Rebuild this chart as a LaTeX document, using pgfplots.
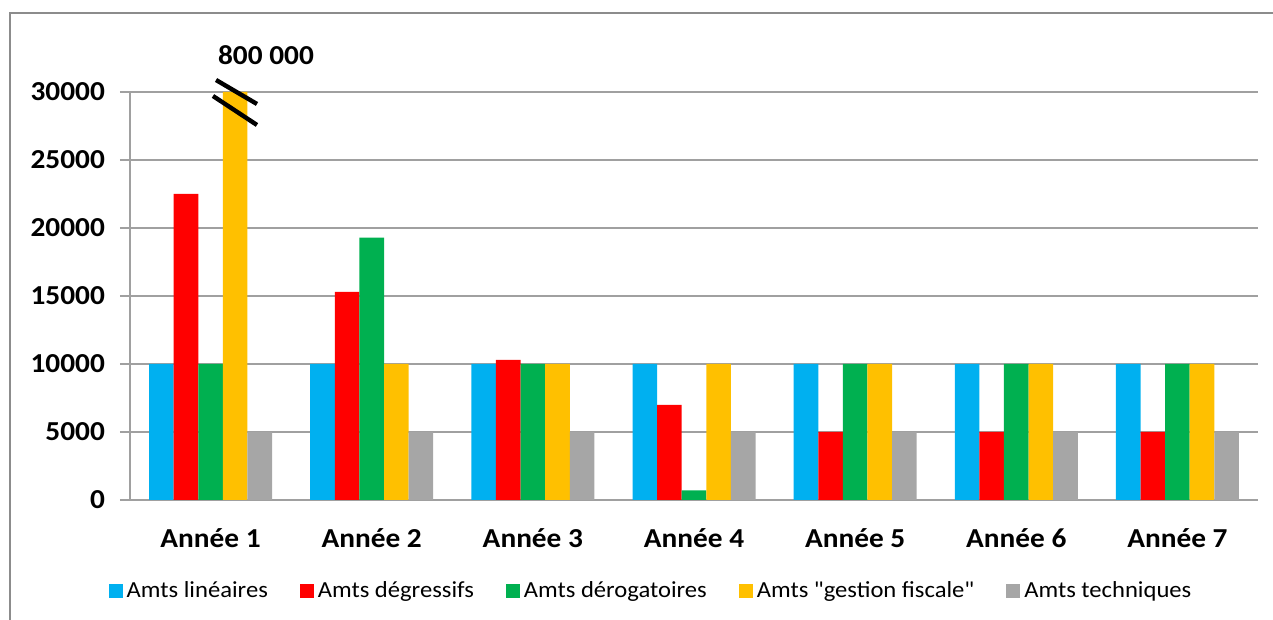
\documentclass[border=0pt]{standalone}
\usepackage{pgfplots}
\pgfplotsset{compat=1.18}
\usepackage{fontspec}
\setmainfont{Carlito}[FakeStretch=1.07]
% same face without TeX ligature mapping, so that " stays a straight quote
\newfontfamily\plainfont{Carlito}[FakeStretch=1.07]

\definecolor{cBlue}{RGB}{0,176,240}
\definecolor{cRed}{RGB}{255,0,0}
\definecolor{cGreen}{RGB}{0,176,80}
\definecolor{cYellow}{RGB}{255,192,0}
\definecolor{cGray}{RGB}{166,166,166}
\definecolor{gridgray}{RGB}{160,160,160}
\definecolor{framegray}{RGB}{140,140,140}

\begin{document}
\begin{tikzpicture}
% page size and outer frame (left and top edges)
\useasboundingbox (0,0) rectangle (636.5pt,310pt);
\draw[framegray, line width=1pt] (5pt,0) -- (5pt,303.5pt) -- (636.5pt,303.5pt);

\begin{axis}[
  at={(65pt,60pt)}, anchor=south west,
  scale only axis,
  width=564pt, height=204pt,
  ybar=0pt, bar width=12.3pt,
  xmin=-0.5, xmax=6.5,
  ymin=0, ymax=30000,
  enlargelimits=false,
  clip=false,
  axis x line*=bottom, axis y line*=left,
  axis line style={draw=gridgray, line width=0.8pt, -},
  xtick={0,1,2,3,4,5,6},
  xticklabels={Année 1,Année 2,Année 3,Année 4,Année 5,Année 6,Année 7},
  xtick style={draw=none},
  extra x ticks={-0.5,0.5,1.5,2.5,3.5,4.5,5.5,6.5},
  extra x tick labels={},
  extra x tick style={tick style={draw=gridgray, line width=0.8pt}, major tick length=5pt, tick align=outside},
  ytick={0,5000,10000,15000,20000,25000,30000},
  ytick style={draw=gridgray, line width=0.8pt},
  tick align=outside, major tick length=5pt,
  ymajorgrids,
  major grid style={draw=gridgray, line width=0.8pt},
  scaled y ticks=false,
  /pgf/number format/.cd, fixed, 1000 sep={}, assume math mode=true, /pgfplots/.cd,
  yticklabel style={font=\fontsize{13.7}{16}\selectfont\bfseries, xshift=-4pt},
  xticklabel style={font=\fontsize{13.7}{16}\selectfont\bfseries, yshift=-6pt},
  legend columns=5,
  legend style={draw=none, fill=none, at={(0.4628,-0.223)}, anchor=center,
    font=\plainfont\fontsize{11.5}{14}\selectfont,
    /tikz/every even column/.append style={column sep=14pt}},
  legend image code/.code={\fill[#1] (0pt,-3.5pt) rectangle (7pt,3.5pt);},
]
\addplot[fill=cBlue, draw=none] coordinates {(0,10000) (1,10000) (2,10000) (3,10000) (4,10000) (5,10000) (6,10000)};
\addplot[fill=cRed, draw=none] coordinates {(0,22500) (1,15300) (2,10300) (3,7000) (4,5000) (5,5000) (6,5000)};
\addplot[fill=cGreen, draw=none] coordinates {(0,10000) (1,19300) (2,10000) (3,700) (4,10000) (5,10000) (6,10000)};
\addplot[fill=cYellow, draw=none] coordinates {(0,30000) (1,10000) (2,10000) (3,10000) (4,10000) (5,10000) (6,10000)};
\addplot[fill=cGray, draw=none] coordinates {(0,5000) (1,5000) (2,5000) (3,5000) (4,5000) (5,5000) (6,5000)};
\legend{Amts linéaires, Amts dégressifs, Amts dérogatoires, Amts "gestion fiscale", Amts techniques}

% axis break on the first "gestion fiscale" bar
\draw[black, line width=2.2pt] (axis cs:0.034,30882) -- (axis cs:0.288,29118);
\draw[black, line width=2.2pt] (axis cs:0.015,29706) -- (axis cs:0.288,27574);
\node[font=\fontsize{13.7}{16}\selectfont\bfseries] at (axis cs:0.344,32720) {800 000};
\end{axis}
\end{tikzpicture}
\end{document}
